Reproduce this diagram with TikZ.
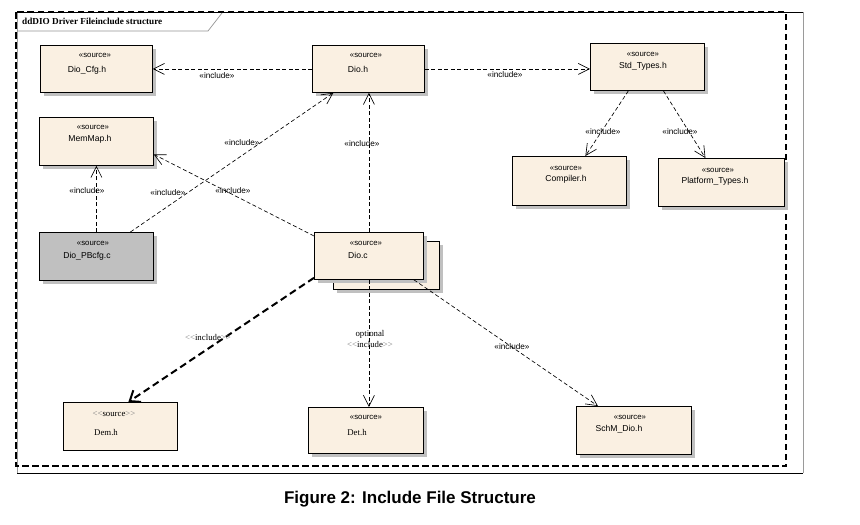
\documentclass[tikz,border=0pt]{standalone}
\usepackage{fontspec}
\setmainfont{Liberation Sans}
\newfontfamily\tnr{Liberation Serif}
\usetikzlibrary{arrows.meta,shadows}
\definecolor{cream}{RGB}{250,240,226}
\definecolor{shgrey}{RGB}{192,192,192}
\definecolor{tabgrey}{RGB}{150,150,150}
\begin{document}
\begin{tikzpicture}[x=1pt,y=-1pt,
  box/.style={draw=black,line width=0.8pt,fill=cream,inner sep=0pt,anchor=north west,
    drop shadow={shadow xshift=4pt,shadow yshift=-4pt,fill=shgrey,opacity=1}},
  flatbox/.style={draw=black,line width=0.8pt,fill=cream,inner sep=0pt,anchor=north west},
  st/.style={font=\fontsize{7.8}{9}\selectfont,inner sep=0pt},
  nm/.style={font=\fontsize{8.6}{10}\selectfont,inner sep=0pt},
  lbl/.style={font=\fontsize{8.2}{9}\selectfont,inner sep=0pt},
  slbl/.style={font=\tnr\fontsize{8.8}{10}\selectfont,inner sep=0pt},
  dep/.style={line width=0.65pt,dash pattern=on 4pt off 2.5pt,-{Straight Barb[length=11pt,width=11pt]}},
  thickdep/.style={line width=2pt,dash pattern=on 7pt off 4pt,-{Straight Barb[length=9pt,width=14pt]}},
  ]
\useasboundingbox (0,0) rectangle (860,525);
\fill[white] (0,0) rectangle (860,525);

% outer frames
\draw[black,line width=1pt] (17,12) -- (803,12);
\draw[black,line width=1pt] (17,473) -- (803,473);
\draw[shgrey!80!black,line width=1pt] (17,12) -- (17,473);
\draw[shgrey!80!black,line width=1pt] (803,12) -- (803,473);
\draw[line width=1.6pt,dash pattern=on 6.5pt off 3.5pt] (16,12) rectangle (786,466);

% title tab
\draw[tabgrey,line width=0.7pt] (17,31) -- (208,31) -- (222,13);
\node[anchor=west,inner sep=0pt,font=\tnr\bfseries\fontsize{9.2}{10}\selectfont] (title) at (22,21) {ddDIO Driver Fileinclude structure};

% boxes
\node[box,minimum width=112pt,minimum height=47pt] (dcfg) at (40,45) {};
\node[box,minimum width=112pt,minimum height=47pt] (dioh) at (312,45) {};
\node[box,minimum width=114pt,minimum height=47pt] (std) at (590,43) {};
\node[box,minimum width=114pt,minimum height=49pt] (comp) at (512,156) {};
\node[box,minimum width=126pt,minimum height=48pt] (plat) at (658,158) {};
\node[box,minimum width=114pt,minimum height=48pt] (mem) at (39,117) {};
\node[box,fill=shgrey,minimum width=114pt,minimum height=48pt] (pb) at (39,232) {};
\node[box,minimum width=106pt,minimum height=48pt] (diocb) at (333,241) {};
\node[box,minimum width=109pt,minimum height=47pt] (dioc) at (314,232) {};
\node[flatbox,minimum width=114pt,minimum height=48pt] (dem) at (63,402) {};
\node[box,minimum width=115pt,minimum height=46pt] (det) at (308,407) {};
\node[box,minimum width=115pt,minimum height=48pt] (schm) at (576,406) {};

% box texts
\node[st] (dcfgs) at (95,55) {«source»};
\node[nm] (dcfgn) at (87,70) {Dio\_Cfg.h};
\node[st] (diohs) at (366,55) {«source»};
\node[nm] (diohn) at (358,69) {Dio.h};
\node[st] (stds) at (643,54) {«source»};
\node[nm] (stdn) at (643,66) {Std\_Types.h};
\node[st] (comps) at (566,168) {«source»};
\node[nm] (compn) at (566,179) {Compiler.h};
\node[st] (plats) at (718,170) {«source»};
\node[nm] (platn) at (715,181) {Platform\_Types.h};
\node[st] (mems) at (93,127) {«source»};
\node[nm] (memn) at (90,139) {MemMap.h};
\node[st] (pbs) at (93,243) {«source»};
\node[nm] (pbn) at (87,256) {Dio\_PBcfg.c};
\node[st] (diocs) at (366,243) {«source»};
\node[nm] (diocn) at (358,255) {Dio.c};
\node[slbl] (dems) at (114,414) {\textcolor{gray}{<<}source\textcolor{gray}{>>}};
\node[slbl] (demn) at (106,433) {Dem.h};
\node[st] (dets) at (366,417) {«source»};
\node[slbl] (detn) at (357,433) {Det.h};
\node[st] (schms) at (630,417) {«source»};
\node[nm] (schmn) at (619,429) {SchM\_Dio.h};

% connectors
\draw[dep] (dioh.west) -- (dcfg.east);
\draw[dep] (dioh.east) -- (dioh.east -| std.west);
\draw[dep] (dioc.north) -- (dioc.north |- dioh.south);
\draw[dep] ([xshift=34pt]pb.north) -- ([xshift=-35pt]dioh.south);
\draw[dep] (pb.north) -- (mem.south);
\draw[dep] ([yshift=-4pt]dioc.north west) -- ([yshift=-13pt]mem.east);
\draw[dep] ([xshift=-19pt]std.south) -- ([xshift=16pt]comp.north);
\draw[dep] ([xshift=16pt]std.south) -- ([xshift=-16pt]plat.north);
\draw[thickdep] ([yshift=2pt]dioc.south west) -- ([xshift=8pt]dem.north);
\draw[dep] (dioc.south) -- (dioc.south |- det.north);
\draw[dep] ([xshift=45pt]dioc.south) -- ([xshift=-36pt]schm.north);

% connector labels
\node[lbl] (l1) at (217,76) {«include»};
\node[lbl] (l2) at (505,75) {«include»};
\node[lbl] (l3) at (362,144) {«include»};
\node[lbl] (l4) at (603,132) {«include»};
\node[lbl] (l5) at (680,132) {«include»};
\node[lbl] (l6) at (87,191) {«include»};
\node[lbl] (l7) at (168,193) {«include»};
\node[lbl] (l8) at (242,143) {«include»};
\node[lbl] (l9) at (233,191) {«include»};
\node[lbl] (l10) at (512,347) {«include»};
\node[slbl] (l11) at (208,337) {\textcolor{gray}{<<}include\textcolor{gray}{>>}};
\node[slbl] (l12) at (370,334) {optional};
\node[slbl] (l13) at (370,344) {\textcolor{gray}{<<}include\textcolor{gray}{>>}};

% caption
\node[inner sep=0pt,font=\bfseries\fontsize{17}{20}\selectfont] (cap) at (410,499) {Figure 2: Include File Structure};
\end{tikzpicture}
\end{document}
